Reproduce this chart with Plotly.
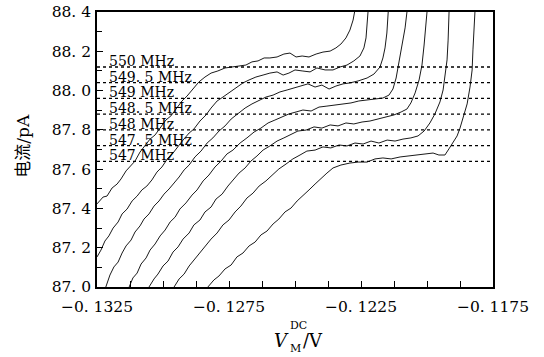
import plotly.graph_objects as go

# ---- data (V, pA) ----
x_550 = [-0.13250, -0.13227, -0.13212, -0.13193, -0.13174, -0.13159, -0.13140, -0.13125, -0.13106, -0.13087,
         -0.13068, -0.13049, -0.13030, -0.13011, -0.12989, -0.12970, -0.12951, -0.12928, -0.12909, -0.12886,
         -0.12864, -0.12841, -0.12818, -0.12792, -0.12765, -0.12739, -0.12712, -0.12686, -0.12663, -0.12640,
         -0.12617, -0.12595, -0.12568, -0.12542, -0.12519, -0.12496, -0.12473, -0.12447, -0.12420, -0.12394,
         -0.12367, -0.12345, -0.12326, -0.12307, -0.12292, -0.12280, -0.12273, -0.12269]
y_550 = [87.423, 87.458, 87.463, 87.504, 87.524, 87.550, 87.591, 87.611, 87.641, 87.687,
         87.718, 87.753, 87.774, 87.809, 87.850, 87.871, 87.906, 87.947, 87.972, 88.008,
         88.044, 88.069, 88.089, 88.100, 88.115, 88.120, 88.125, 88.130, 88.146, 88.151,
         88.166, 88.166, 88.171, 88.186, 88.191, 88.171, 88.176, 88.171, 88.186, 88.196,
         88.201, 88.217, 88.237, 88.268, 88.308, 88.359, 88.410, 88.461]

x_5495 = [-0.13250, -0.13235, -0.13220, -0.13205, -0.13189, -0.13170, -0.13155, -0.13136, -0.13117, -0.13098,
          -0.13080, -0.13061, -0.13042, -0.13023, -0.13004, -0.12981, -0.12962, -0.12943, -0.12924, -0.12901,
          -0.12883, -0.12860, -0.12837, -0.12818, -0.12795, -0.12773, -0.12750, -0.12723, -0.12697, -0.12674,
          -0.12648, -0.12621, -0.12595, -0.12568, -0.12545, -0.12523, -0.12500, -0.12473, -0.12443, -0.12417,
          -0.12386, -0.12356, -0.12330, -0.12303, -0.12277, -0.12254, -0.12239, -0.12231, -0.12227, -0.12223,
          -0.12220]
y_5495 = [87.153, 87.188, 87.234, 87.260, 87.300, 87.331, 87.372, 87.397, 87.438, 87.463,
          87.494, 87.514, 87.545, 87.585, 87.611, 87.657, 87.682, 87.718, 87.748, 87.784,
          87.804, 87.845, 87.876, 87.911, 87.947, 87.967, 87.988, 88.013, 88.039, 88.054,
          88.069, 88.079, 88.089, 88.095, 88.079, 88.089, 88.105, 88.100, 88.095, 88.115,
          88.105, 88.105, 88.120, 88.130, 88.151, 88.176, 88.217, 88.268, 88.334, 88.400,
          88.461]

x_549 = [-0.13223, -0.13216, -0.13201, -0.13186, -0.13170, -0.13155, -0.13140, -0.13121, -0.13106, -0.13087,
         -0.13072, -0.13053, -0.13034, -0.13015, -0.12996, -0.12977, -0.12958, -0.12939, -0.12920, -0.12901,
         -0.12879, -0.12856, -0.12833, -0.12811, -0.12788, -0.12765, -0.12742, -0.12716, -0.12689, -0.12663,
         -0.12636, -0.12610, -0.12583, -0.12557, -0.12530, -0.12504, -0.12477, -0.12451, -0.12424, -0.12398,
         -0.12371, -0.12345, -0.12318, -0.12292, -0.12261, -0.12227, -0.12201, -0.12178, -0.12167, -0.12159,
         -0.12152, -0.12148, -0.12144]
y_549 = [86.975, 87.000, 87.061, 87.102, 87.127, 87.173, 87.209, 87.239, 87.280, 87.311,
         87.346, 87.372, 87.412, 87.438, 87.473, 87.499, 87.529, 87.560, 87.596, 87.621,
         87.662, 87.692, 87.733, 87.759, 87.794, 87.820, 87.855, 87.881, 87.911, 87.932,
         87.952, 87.967, 87.977, 87.993, 88.003, 88.013, 88.023, 88.034, 88.018, 88.028,
         88.008, 88.023, 88.034, 88.039, 88.049, 88.064, 88.084, 88.120, 88.166, 88.217,
         88.293, 88.400, 88.461]

x_5485 = [-0.13136, -0.13129, -0.13114, -0.13098, -0.13083, -0.13064, -0.13049, -0.13030, -0.13011, -0.12992,
          -0.12973, -0.12954, -0.12936, -0.12913, -0.12890, -0.12871, -0.12848, -0.12826, -0.12803, -0.12780,
          -0.12758, -0.12735, -0.12708, -0.12682, -0.12655, -0.12629, -0.12602, -0.12576, -0.12549, -0.12523,
          -0.12496, -0.12470, -0.12439, -0.12409, -0.12379, -0.12348, -0.12318, -0.12288, -0.12258, -0.12227,
          -0.12197, -0.12167, -0.12144, -0.12129, -0.12117, -0.12106, -0.12095, -0.12083, -0.12076, -0.12072]
y_5485 = [86.975, 87.000, 87.046, 87.071, 87.117, 87.148, 87.188, 87.219, 87.260, 87.290,
          87.331, 87.356, 87.397, 87.428, 87.468, 87.494, 87.540, 87.570, 87.611, 87.641,
          87.677, 87.697, 87.733, 87.759, 87.789, 87.809, 87.835, 87.850, 87.865, 87.881,
          87.891, 87.901, 87.896, 87.916, 87.921, 87.926, 87.932, 87.937, 87.947, 87.952,
          87.957, 87.962, 87.977, 88.008, 88.064, 88.146, 88.232, 88.319, 88.400, 88.461]

x_548 = [-0.13061, -0.13053, -0.13034, -0.13019, -0.13000, -0.12981, -0.12962, -0.12943, -0.12924, -0.12901,
         -0.12883, -0.12860, -0.12841, -0.12818, -0.12799, -0.12776, -0.12754, -0.12735, -0.12712, -0.12689,
         -0.12667, -0.12644, -0.12621, -0.12595, -0.12568, -0.12542, -0.12515, -0.12489, -0.12458, -0.12428,
         -0.12398, -0.12367, -0.12337, -0.12307, -0.12277, -0.12246, -0.12216, -0.12186, -0.12155, -0.12125,
         -0.12098, -0.12076, -0.12061, -0.12045, -0.12030, -0.12019, -0.12011, -0.12004, -0.12000, -0.11996]
y_548 = [86.975, 87.000, 87.041, 87.066, 87.107, 87.132, 87.178, 87.204, 87.244, 87.275,
         87.316, 87.341, 87.382, 87.407, 87.448, 87.473, 87.514, 87.545, 87.580, 87.606,
         87.641, 87.667, 87.697, 87.718, 87.743, 87.759, 87.779, 87.794, 87.799, 87.815,
         87.809, 87.825, 87.820, 87.835, 87.830, 87.840, 87.845, 87.855, 87.865, 87.876,
         87.891, 87.906, 87.937, 87.988, 88.054, 88.130, 88.232, 88.334, 88.400, 88.461]

x_5475 = [-0.12966, -0.12958, -0.12939, -0.12920, -0.12901, -0.12883, -0.12860, -0.12841, -0.12818, -0.12795,
          -0.12773, -0.12750, -0.12727, -0.12705, -0.12682, -0.12659, -0.12636, -0.12610, -0.12587, -0.12561,
          -0.12534, -0.12508, -0.12481, -0.12455, -0.12424, -0.12394, -0.12364, -0.12333, -0.12303, -0.12273,
          -0.12242, -0.12212, -0.12182, -0.12151, -0.12121, -0.12091, -0.12061, -0.12034, -0.12011, -0.11989,
          -0.11970, -0.11951, -0.11939, -0.11932, -0.11924, -0.11920, -0.11917, -0.11915]
y_5475 = [86.975, 87.000, 87.041, 87.066, 87.107, 87.137, 87.178, 87.204, 87.244, 87.275,
          87.316, 87.341, 87.382, 87.412, 87.453, 87.478, 87.514, 87.540, 87.570, 87.601,
          87.626, 87.652, 87.672, 87.692, 87.697, 87.713, 87.708, 87.723, 87.718, 87.733,
          87.728, 87.743, 87.733, 87.748, 87.743, 87.753, 87.759, 87.769, 87.794, 87.835,
          87.881, 87.942, 88.003, 88.064, 88.156, 88.257, 88.400, 88.461]

x_547 = [-0.12837, -0.12830, -0.12807, -0.12788, -0.12765, -0.12742, -0.12720, -0.12697, -0.12674, -0.12651,
         -0.12629, -0.12606, -0.12583, -0.12561, -0.12538, -0.12515, -0.12492, -0.12470, -0.12447, -0.12424,
         -0.12401, -0.12379, -0.12356, -0.12326, -0.12292, -0.12261, -0.12227, -0.12197, -0.12167, -0.12136,
         -0.12102, -0.12072, -0.12038, -0.12008, -0.11977, -0.11955, -0.11932, -0.11917, -0.11902, -0.11886,
         -0.11875, -0.11860, -0.11848, -0.11837, -0.11829, -0.11826, -0.11822, -0.11818, -0.11816]
y_547 = [86.975, 87.000, 87.036, 87.056, 87.092, 87.112, 87.153, 87.173, 87.209, 87.229,
         87.265, 87.285, 87.321, 87.346, 87.382, 87.402, 87.438, 87.463, 87.494, 87.524,
         87.555, 87.580, 87.606, 87.621, 87.631, 87.636, 87.636, 87.652, 87.657, 87.652,
         87.662, 87.667, 87.672, 87.677, 87.682, 87.672, 87.672, 87.703, 87.733, 87.769,
         87.809, 87.876, 87.932, 88.018, 88.105, 88.207, 88.308, 88.400, 88.461]

level_values = [88.12, 88.04, 87.96, 87.88, 87.80, 87.72, 87.64]
level_labels = ["550 MHz", "549. 5 MHz", "549 MHz", "548. 5 MHz", "548 MHz", "547. 5 MHz", "547 MHz"]

x_tickvals = [-0.1325, -0.1275, -0.1225, -0.1175]
x_ticktext = ["\u22120. 1325", "\u22120. 1275", "\u22120. 1225", "\u22120. 1175"]
y_tickvals = [87.0, 87.2, 87.4, 87.6, 87.8, 88.0, 88.2, 88.4]
y_ticktext = ["87. 0", "87. 2", "87. 4", "87. 6", "87. 8", "88. 0", "88. 2", "88. 4"]

curves = [(x_550, y_550), (x_5495, y_5495), (x_549, y_549), (x_5485, y_5485),
          (x_548, y_548), (x_5475, y_5475), (x_547, y_547)]

SERIF = "DejaVu Serif"

fig = go.Figure()
for xs, ys in curves:
    fig.add_trace(go.Scatter(x=xs, y=ys, mode="lines",
                             line=dict(color="#1a1a1a", width=1),
                             showlegend=False, hoverinfo="skip"))

shapes = []
annotations = []
for lv, lab in zip(level_values, level_labels):
    shapes.append(dict(type="line", xref="paper", x0=0, x1=1, yref="y", y0=lv, y1=lv,
                       line=dict(color="black", width=1.3, dash="dot"), layer="above"))
    annotations.append(dict(x=0.024, y=lv, xref="paper", yref="y", text=lab, showarrow=False,
                            xanchor="left", yanchor="bottom", yshift=-4,
                            font=dict(family=SERIF, size=14, color="black")))

# axis titles
annotations.append(dict(x=-0.19, y=0.513, xref="paper", yref="paper",
                        text="<span style='font-family:Noto Sans CJK SC'>电流</span>/pA",
                        textangle=-90, showarrow=False, xanchor="center", yanchor="middle",
                        font=dict(family=SERIF, size=17, color="black")))
annotations.append(dict(x=0.466, y=-0.196, xref="paper", yref="paper", text="<i>V</i>",
                        showarrow=False, xanchor="center", yanchor="middle",
                        font=dict(family=SERIF, size=18, color="black")))
annotations.append(dict(x=0.482, y=-0.140, xref="paper", yref="paper", text="DC",
                        showarrow=False, xanchor="left", yanchor="middle",
                        font=dict(family=SERIF, size=11, color="black")))
annotations.append(dict(x=0.482, y=-0.224, xref="paper", yref="paper", text="M",
                        showarrow=False, xanchor="left", yanchor="middle",
                        font=dict(family=SERIF, size=11, color="black")))
annotations.append(dict(x=0.516, y=-0.196, xref="paper", yref="paper", text="/V",
                        showarrow=False, xanchor="left", yanchor="middle",
                        font=dict(family=SERIF, size=18, color="black")))

x_minor = [-0.1325 + i * 0.00125 for i in range(13)]
y_minor = [87.0 + i * 0.1 for i in range(15)]

fig.update_layout(
    width=544, height=357,
    margin=dict(l=97, r=51, t=12, b=70, autoexpand=False),
    paper_bgcolor="white", plot_bgcolor="white",
    shapes=shapes, annotations=annotations,
    showlegend=False,
    font=dict(family=SERIF, color="black"),
)
fig.update_xaxes(range=[-0.1325, -0.1175], showgrid=False, zeroline=False, automargin=False,
                 showline=True, linecolor="black", linewidth=1.6, mirror=True,
                 tickmode="array", tickvals=x_tickvals, ticktext=x_ticktext,
                 ticks="inside", ticklen=6, tickwidth=1.2, tickcolor="black",
                 ticklabelstandoff=5,
                 tickfont=dict(family=SERIF, size=15.5, color="black"),
                 minor=dict(tickmode="array", tickvals=x_minor, ticks="inside",
                            ticklen=6, tickwidth=1.2, tickcolor="black", showgrid=False))
fig.update_yaxes(range=[87.0, 88.4], showgrid=False, zeroline=False, automargin=False,
                 showline=True, linecolor="black", linewidth=1.6, mirror=True,
                 tickmode="array", tickvals=y_tickvals, ticktext=y_ticktext,
                 ticks="inside", ticklen=6, tickwidth=1.2, tickcolor="black",
                 ticklabelstandoff=1,
                 tickfont=dict(family=SERIF, size=15.5, color="black"),
                 minor=dict(tickmode="array", tickvals=y_minor, ticks="inside",
                            ticklen=5, tickwidth=1.2, tickcolor="black", showgrid=False))

fig.write_html("out.html", config={"displayModeBar": False},
               post_script="document.body.style.margin='0px';")
